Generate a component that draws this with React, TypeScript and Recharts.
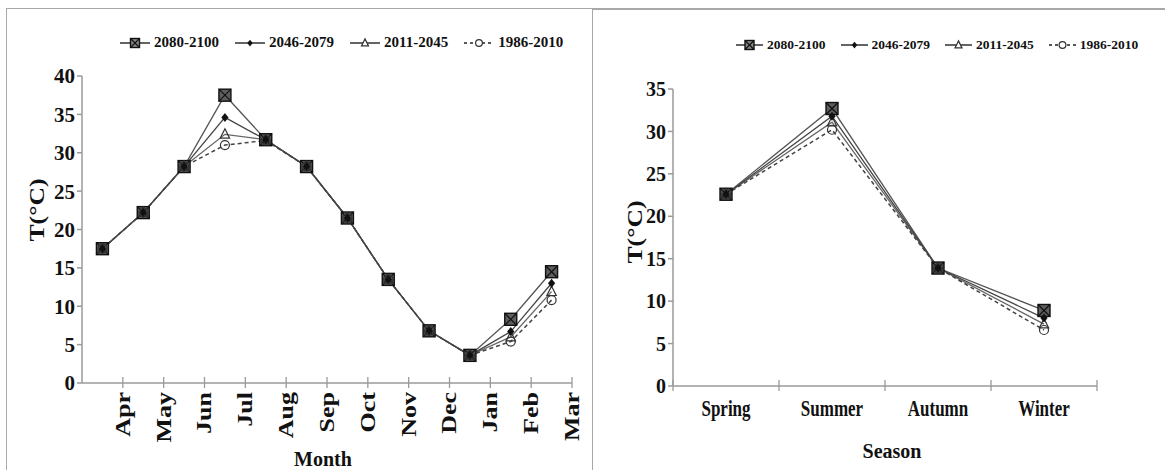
import React from 'react';
import { LineChart, Line, XAxis, YAxis, Legend, Label } from 'recharts';

// monthly mean temperature (°C), April..March
const months = ['Apr', 'May', 'Jun', 'Jul', 'Aug', 'Sep', 'Oct', 'Nov', 'Dec', 'Jan', 'Feb', 'Mar'];
const monthly2080 = [17.5, 22.2, 28.2, 37.5, 31.7, 28.2, 21.5, 13.5, 6.8, 3.6, 8.3, 14.5];
const monthly2046 = [17.5, 22.2, 28.2, 34.6, 31.7, 28.2, 21.5, 13.5, 6.8, 3.6, 6.7, 13.0];
const monthly2011 = [17.5, 22.2, 28.2, 32.4, 31.7, 28.2, 21.5, 13.5, 6.8, 3.6, 6.0, 11.9];
const monthly1986 = [17.5, 22.2, 28.2, 31.0, 31.6, 28.2, 21.5, 13.5, 6.8, 3.6, 5.4, 10.8];
const monthTicks = [0, 5, 10, 15, 20, 25, 30, 35, 40];

// seasonal mean temperature (°C)
const seasons = ['Spring', 'Summer', 'Autumn', 'Winter'];
const seasonal2080 = [22.6, 32.7, 13.9, 8.9];
const seasonal2046 = [22.6, 31.8, 13.9, 8.0];
const seasonal2011 = [22.6, 31.1, 13.9, 7.3];
const seasonal1986 = [22.6, 30.2, 13.9, 6.6];
const seasonTicks = [0, 5, 10, 15, 20, 25, 30, 35];

const FONT = '"Liberation Serif", "Times New Roman", serif';
const AXIS = '#9a9a9a';

type Shape = 'boxx' | 'diamond' | 'triangle' | 'circle';

const SERIES: { key: string; name: string; shape: Shape; stroke: string; dash?: string }[] = [
  { key: 'p2080', name: '2080-2100', shape: 'boxx', stroke: '#555' },
  { key: 'p2046', name: '2046-2079', shape: 'diamond', stroke: '#444' },
  { key: 'p2011', name: '2011-2045', shape: 'triangle', stroke: '#666' },
  { key: 'p1986', name: '1986-2010', shape: 'circle', stroke: '#444', dash: '4 3' },
];
// paint order so coinciding markers stack into a dark blob like the original
const DRAW_ORDER = ['p2080', 'p2011', 'p1986', 'p2046'];

const monthRows = months.map((m, i) => ({
  i, month: m, p2080: monthly2080[i], p2046: monthly2046[i], p2011: monthly2011[i], p1986: monthly1986[i],
}));
const seasonRows = seasons.map((s, i) => ({
  i, season: s, p2080: seasonal2080[i], p2046: seasonal2046[i], p2011: seasonal2011[i], p1986: seasonal1986[i],
}));

const Marker = ({ shape, cx, cy, k = 1, legend = false }: { shape: Shape; cx: number; cy: number; k?: number; legend?: boolean }) => {
  if (shape === 'boxx') {
    const s = 6 * k;
    return (
      <g>
        <rect x={cx - s} y={cy - s} width={2 * s} height={2 * s} fill={legend ? '#888' : '#5e5e5e'} stroke="#111" strokeWidth={1.4} />
        <line x1={cx - s} y1={cy - s} x2={cx + s} y2={cy + s} stroke="#111" strokeWidth={1.2} />
        <line x1={cx + s} y1={cy - s} x2={cx - s} y2={cy + s} stroke="#111" strokeWidth={1.2} />
      </g>
    );
  }
  if (shape === 'diamond') {
    const s = 4.5 * k;
    return <polygon points={`${cx},${cy - s} ${cx + s * 0.8},${cy} ${cx},${cy + s} ${cx - s * 0.8},${cy}`} fill="#111" />;
  }
  const fill = legend ? '#fff' : 'none';
  if (shape === 'triangle') {
    const s = 5.5 * k;
    return <polygon points={`${cx},${cy - s} ${cx + s * 0.85},${cy + s * 0.7} ${cx - s * 0.85},${cy + s * 0.7}`} fill={fill} stroke="#333" strokeWidth={1.2} />;
  }
  return <circle cx={cx} cy={cy} r={4.5 * k} fill={fill} stroke="#333" strokeWidth={1.2} />;
};

const dotFor = (shape: Shape) => (p: any) => (
  <g key={`${shape}-${p.index}`}>
    <Marker shape={shape} cx={p.cx} cy={p.cy} />
  </g>
);

const legendFor = (fontSize: number, lineW: number, gap: number) => () => (
  <div style={{ display: 'flex', alignItems: 'center', fontFamily: FONT, fontWeight: 'bold', fontSize, color: '#111', whiteSpace: 'nowrap' }}>
    {SERIES.map((s) => (
      <div key={s.key} style={{ display: 'flex', alignItems: 'center', marginRight: gap }}>
        <svg width={lineW} height={16} style={{ marginRight: 4 }}>
          <line x1={0} y1={8} x2={lineW} y2={8} stroke="#222" strokeWidth={1.4} strokeDasharray={s.dash ? '3 3' : undefined} />
          <Marker shape={s.shape} cx={lineW / 2} cy={8} k={0.75} legend />
        </svg>
        <span>{s.name}</span>
      </div>
    ))}
  </div>
);

const tickText = { fontFamily: FONT, fontWeight: 'bold' as const, fill: '#111' };

const MonthTick = (p: any) => {
  const label = months[Math.round(p.payload.value - 0.5)];
  return (
    <g>
      <line x1={p.x} y1={p.y - 6} x2={p.x} y2={p.y + 5} stroke={AXIS} strokeWidth={1.3} />
      <text x={0} y={0} transform={`translate(${p.x}, ${p.y + 9}) rotate(-90) scale(1.3, 1)`} textAnchor="end"
        dominantBaseline="central" fontSize={20} {...tickText}>
        {label}
      </text>
    </g>
  );
};

// right chart geometry
const R_W = 573, R_H = 470;
const R_MARGIN = { top: 89, right: 68, bottom: 24, left: 29 };
const R_YW = 52;
const R_BAND = (R_W - R_MARGIN.left - R_MARGIN.right - R_YW) / seasons.length;

const SeasonTick = (p: any) => {
  const half = R_BAND / 2;
  return (
    <g>
      {p.index === 0 && <line x1={p.x - half} y1={p.y - 6} x2={p.x - half} y2={p.y + 5} stroke={AXIS} strokeWidth={1.3} />}
      <line x1={p.x + half} y1={p.y - 6} x2={p.x + half} y2={p.y + 5} stroke={AXIS} strokeWidth={1.3} />
      <text x={0} y={0} transform={`translate(${p.x}, ${p.y + 30}) scale(1, 1.3)`} textAnchor="middle" fontSize={17} {...tickText}>
        {seasons[p.payload.value]}
      </text>
    </g>
  );
};

const yTitle = (cx: number, cy: number) => () => (
  <text x={cx} y={cy} transform={`rotate(-90, ${cx}, ${cy})`} textAnchor="middle" dominantBaseline="central"
    fontFamily={FONT} fontWeight="bold" fontSize={20} fill="#111" textLength={63} lengthAdjust="spacingAndGlyphs">
    T(°C)
  </text>
);

const xTitle = (text: string, cx: number, by: number) => () => (
  <text x={cx} y={by} textAnchor="middle" fontFamily={FONT} fontWeight="bold" fontSize={20} fill="#111">
    {text}
  </text>
);

const renderLines = () =>
  DRAW_ORDER.map((k) => {
    const s = SERIES.find((x) => x.key === k)!;
    return (
      <Line key={s.key} type="linear" dataKey={s.key} name={s.name} stroke={s.stroke} strokeWidth={s.dash ? 1.5 : 1.3}
        strokeDasharray={s.dash} dot={dotFor(s.shape)} activeDot={false} isAnimationActive={false} />
    );
  });

export default function App() {
  return (
    <div style={{ position: 'absolute', left: 0, top: 0, width: 1165, height: 470, background: '#fff', overflow: 'hidden' }}>
      <div style={{ position: 'absolute', left: 6, top: 8, width: 585, height: 480, border: '1.5px solid #a8a8a8' }} />
      <div style={{ position: 'absolute', left: 592, top: 8, width: 600, height: 480, borderTop: '2px solid #a8a8a8', borderLeft: '1.5px solid #a8a8a8' }} />

      <div style={{ position: 'absolute', left: 0, top: 0 }}>
        <LineChart width={592} height={470} data={monthRows} margin={{ top: 76, right: 20, bottom: 27, left: 30 }}>
          <XAxis dataKey="i" type="number" domain={[-0.5, 11.5]} ticks={months.map((_, i) => i + 0.5)} interval={0}
            height={60} tickLine={false} tickSize={0} tickMargin={0} tick={MonthTick} stroke={AXIS} strokeWidth={1.5}>
            <Label content={xTitle('Month', 323, 466)} />
          </XAxis>
          <YAxis type="number" domain={[0, 40]} ticks={monthTicks} interval={0} width={52} tickSize={5} tickMargin={2}
            tick={{ ...tickText, fontSize: 21 }} stroke={AXIS} strokeWidth={1.5}>
            <Label content={yTitle(37, 210)} />
          </YAxis>
          <Legend verticalAlign="middle" align="center" layout="horizontal" content={legendFor(15, 30, 16)}
            wrapperStyle={{ top: 34, left: 120, width: 480 }} />
          {renderLines()}
        </LineChart>
      </div>

      <div style={{ position: 'absolute', left: 592, top: 0 }}>
        <LineChart width={R_W} height={R_H} data={seasonRows} margin={R_MARGIN}>
          <XAxis dataKey="i" type="number" domain={[-0.5, seasons.length - 0.5]} ticks={seasons.map((_, i) => i)} interval={0}
            height={60} tickLine={false} tickSize={0} tickMargin={0} tick={SeasonTick} stroke={AXIS} strokeWidth={1.5}>
            <Label content={xTitle('Season', 300, 458)} />
          </XAxis>
          <YAxis type="number" domain={[0, 35]} ticks={seasonTicks} interval={0} width={R_YW} tickSize={5} tickMargin={2}
            tick={{ ...tickText, fontSize: 20 }} stroke={AXIS} strokeWidth={1.5}>
            <Label content={yTitle(43, 232)} />
          </YAxis>
          <Legend verticalAlign="middle" align="center" layout="horizontal" content={legendFor(13.5, 27, 15)}
            wrapperStyle={{ top: 37, left: 144, width: 430 }} />
          {renderLines()}
        </LineChart>
      </div>
    </div>
  );
}
